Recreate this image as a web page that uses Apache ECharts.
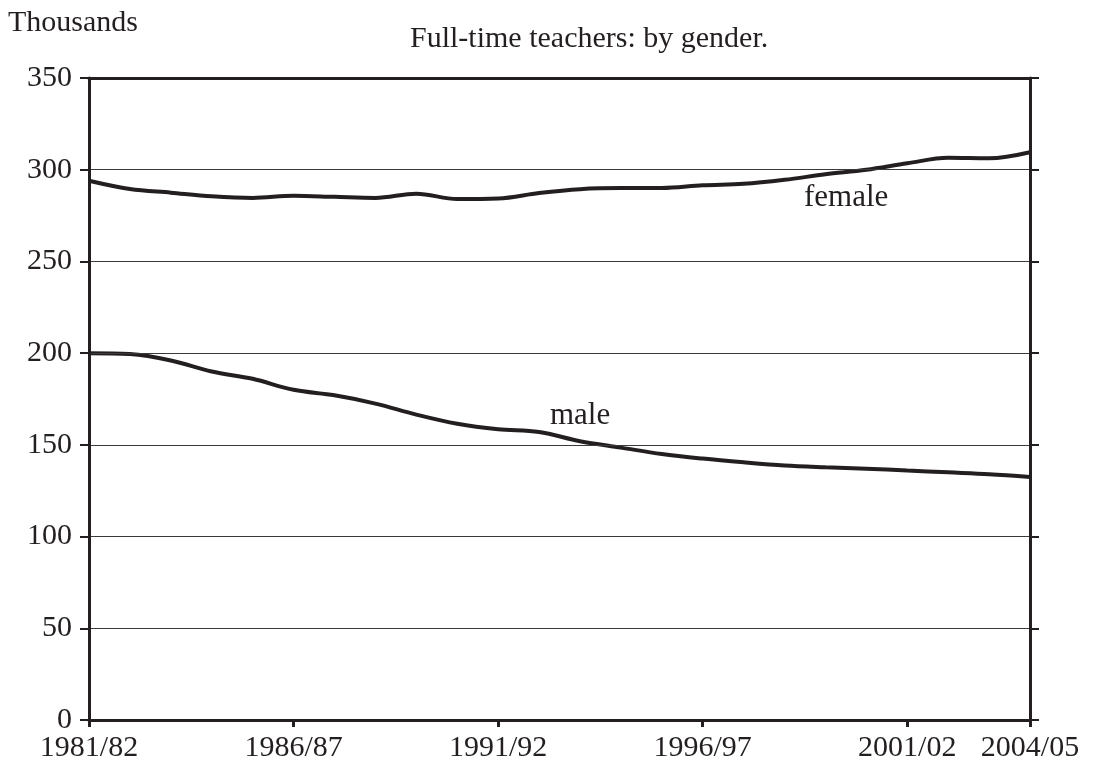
<!DOCTYPE html>
<html>
<head>
<meta charset="utf-8">
<script src="https://cdn.jsdelivr.net/npm/echarts@6/dist/echarts.min.js"></script>
<style>
  html, body { margin: 0; padding: 0; background: #fff; }
  #chart { width: 1102px; height: 765px; }
</style>
</head>
<body>
<div id="chart"></div>
<script>
// school years 1981/82 .. 2004/05
var years = ['1981/82', '1982/83', '1983/84', '1984/85', '1985/86', '1986/87', '1987/88', '1988/89',
  '1989/90', '1990/91', '1991/92', '1992/93', '1993/94', '1994/95', '1995/96', '1996/97',
  '1997/98', '1998/99', '1999/00', '2000/01', '2001/02', '2002/03', '2003/04', '2004/05'];
var labelledYears = [0, 5, 10, 15, 20, 23];

// thousands of teachers
var female = [294, 289.5, 287.5, 285.5, 284.6, 285.8, 285.2, 284.6, 286.9, 284, 284.3, 287.3,
  289.4, 290, 290, 291.5, 292.3, 294.5, 297.5, 300, 303.5, 306.5, 306.2, 309.5];
var male = [200, 199.5, 196, 190, 186, 180, 177, 172.5, 166.5, 161.5, 158.5, 157,
  152, 148.5, 145, 142.5, 140.5, 138.8, 137.8, 137, 136, 135, 134, 132.5];

var font = '"Liberation Serif", "Times New Roman", serif';
var ink = '#231f20';

var chart = echarts.init(document.getElementById('chart'), null, { renderer: 'canvas' });

function showYear(idx) {
  return labelledYears.indexOf(idx) >= 0;
}

var option = {
  animation: false,
  backgroundColor: '#fff',
  grid: { left: 89, right: 72, top: 78, bottom: 45 },
  graphic: [
    { type: 'text', left: 8, top: 8, style: { text: 'Thousands', font: '30px ' + font, fill: ink } },
    { type: 'text', left: 410, top: 24, style: { text: 'Full-time teachers: by gender.', font: '30px ' + font, fill: ink } },
    { type: 'text', left: 804, top: 182, style: { text: 'female', font: '31px ' + font, fill: ink } },
    { type: 'text', left: 550, top: 400, style: { text: 'male', font: '31px ' + font, fill: ink } }
  ],
  xAxis: [
    {
      type: 'category',
      data: years,
      boundaryGap: false,
      z: 5,
      axisLine: { onZero: false, lineStyle: { color: ink, width: 3 } },
      axisTick: { length: 7, interval: function (i) { return showYear(i); }, lineStyle: { color: ink, width: 3 } },
      axisLabel: {
        interval: function (i) { return showYear(i); },
        margin: 13,
        color: ink,
        fontFamily: font,
        fontSize: 30
      },
      splitLine: { show: false }
    },
    {
      type: 'category',
      position: 'top',
      data: years,
      boundaryGap: false,
      z: 5,
      axisLine: { show: true, onZero: false, lineStyle: { color: ink, width: 3 } },
      axisTick: { show: false },
      axisLabel: { show: false }
    }
  ],
  yAxis: [
    {
      type: 'value',
      min: 0,
      max: 350,
      interval: 50,
      z: 5,
      axisLine: { show: true, onZero: false, lineStyle: { color: ink, width: 3 } },
      axisTick: { show: true, length: 9, lineStyle: { color: ink, width: 2 } },
      axisLabel: { margin: 17, color: ink, fontFamily: font, fontSize: 30 },
      splitLine: { lineStyle: { color: '#3a3a3a', width: 1.2 } }
    },
    {
      type: 'value',
      position: 'right',
      min: 0,
      max: 350,
      interval: 50,
      z: 5,
      axisLine: { show: true, onZero: false, lineStyle: { color: ink, width: 3 } },
      axisTick: { show: true, length: 9, lineStyle: { color: ink, width: 2 } },
      axisLabel: { show: false },
      splitLine: { show: false }
    }
  ],
  series: [
    {
      name: 'female',
      type: 'line',
      data: female,
      smooth: 0.35,
      symbol: 'none',
      lineStyle: { color: ink, width: 4 }
    },
    {
      name: 'male',
      type: 'line',
      data: male,
      smooth: 0.35,
      symbol: 'none',
      lineStyle: { color: ink, width: 4 }
    }
  ]
};

chart.setOption(option);
window.addEventListener('resize', chart.resize);
</script>
</body>
</html>
